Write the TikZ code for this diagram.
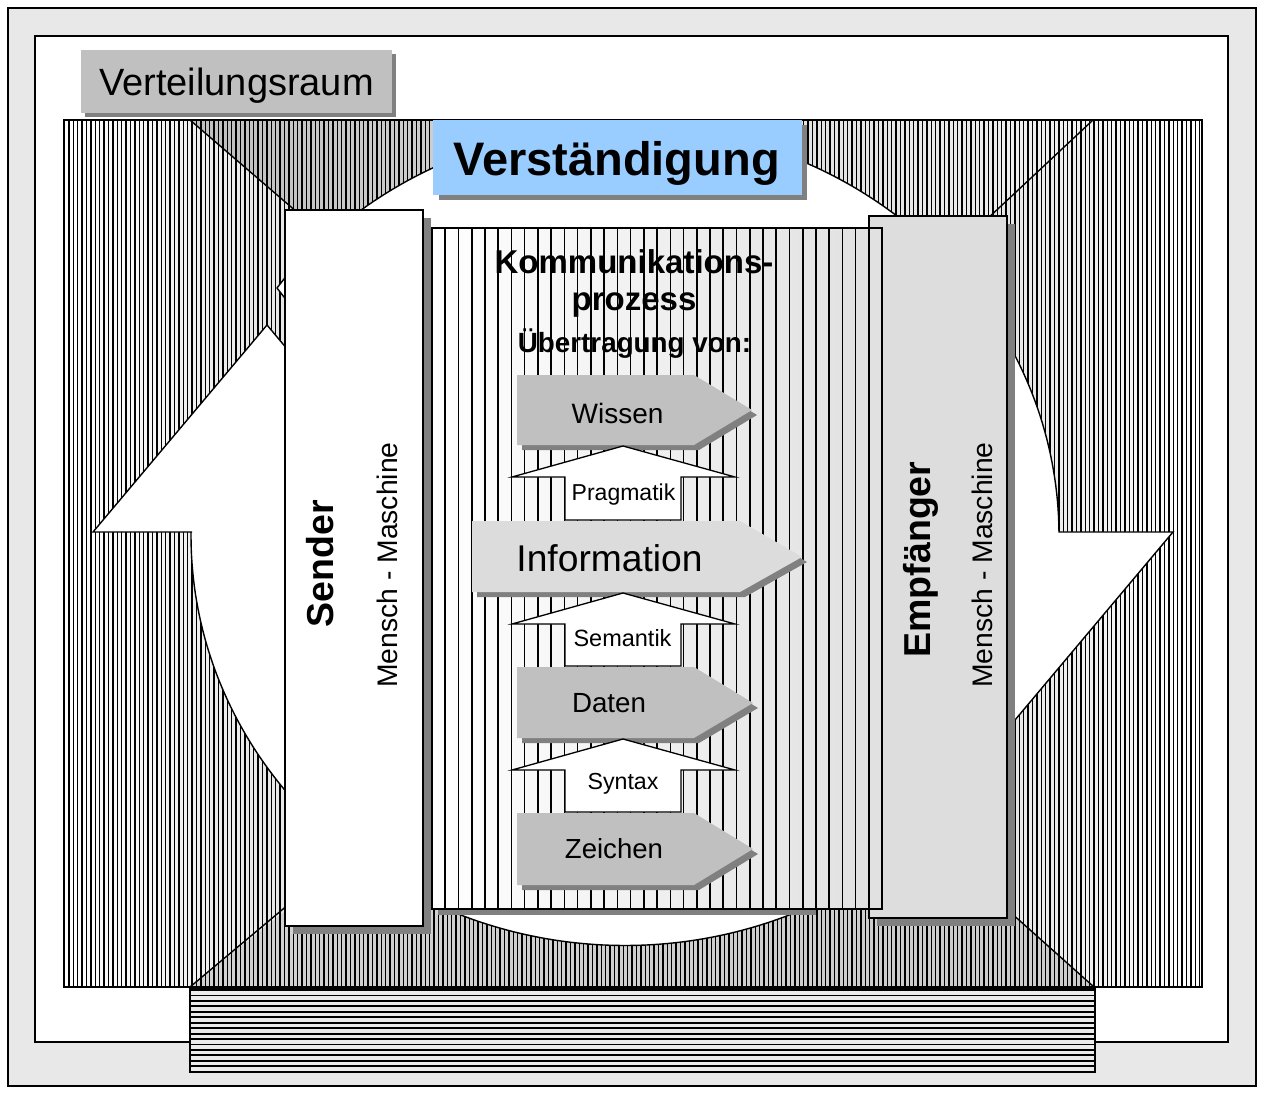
\documentclass[tikz,border=0pt]{standalone}
\usepackage{fontspec}
\setmainfont{Liberation Sans}
\definecolor{framegray}{HTML}{E8E8E8}
\definecolor{shadowgray}{HTML}{808080}
\definecolor{labelgray}{HTML}{C0C0C0}
\definecolor{skyblue}{HTML}{99CCFF}
\definecolor{boxgray}{HTML}{DDDDDD}
\definecolor{pentgray}{HTML}{C0C0C0}
\definecolor{infogray}{HTML}{DCDCDC}
\definecolor{panelgray}{HTML}{E4E4E4}
\begin{document}
\begin{tikzpicture}[x=1pt,y=-1pt,
  frame/.style={draw=black, line width=1.4pt},
  shadow/.style={fill=shadowgray, draw=none},
  stripe/.style={line width=1.45pt},
  edge/.style={line width=1.4pt, line join=miter},
  pent/.style={fill=pentgray, draw=none},
  uparrow/.style={fill=white, draw=black, line width=1.3pt, line join=miter},
  lbl/.style={inner sep=0pt, anchor=base},
  fs/.style={font=\fontsize{#1}{#1}\selectfont},
  fb/.style={font=\fontsize{#1}{#1}\selectfont\bfseries}]
\useasboundingbox (0,0) rectangle (1263,1094);

% frames
\draw[frame, fill=framegray] (8,8) rectangle (1256,1086);
\draw[frame, fill=white] (35,36) rectangle (1228,1042);

% label of the whole space
\fill[shadowgray] (85,54) rectangle (396,117);
\fill[labelgray] (81,50) rectangle (392,113);
\node[lbl, fs=38] (raum) at (236.5,96) {Verteilungsraum};

% room: side panels, ceiling and floor backgrounds
\shade[left color=white, right color=panelgray]
  (64,120) -- (190,120) -- (305,219) -- (305,895) -- (190,987) -- (64,987) -- cycle;
\shade[left color=panelgray, right color=white]
  (1202,120) -- (1093,120) -- (985,221) -- (1010,912) -- (1094,987) -- (1202,987) -- cycle;
\shade[left color=black!25, right color=black!5]
  (190,120) -- (1093,120) -- (985,221) -- (305,219) -- cycle;
\shade[left color=black!18, middle color=black!45, right color=black!20]
  (190,987) -- (1094,987) -- (1010,912) -- (305,895) -- cycle;

% vertical hatching of the room
\begin{scope}
  \clip (64,120) rectangle (1202,987);
  \foreach \i in {0,...,259}
    \draw[stripe] ({64.5+4.4*\i},120) -- ++(0,867);
\end{scope}

% perspective edges
\draw[edge] (190,120) -- (305,219);
\draw[edge] (1093,120) -- (985,221);
\draw[edge] (190,987) -- (295,899);
\draw[edge] (1094,987) -- (1010,912);
\draw[frame] (64,120) rectangle (1202,987);

% floor block with horizontal hatching
\fill[black!8] (190,988) rectangle (1095,1072);
\begin{scope}
  \clip (190,988) rectangle (1095,1072);
  \foreach \j in {0,...,15}
    \draw[line width=1.9pt] (190,{990+5.45*\j}) -- ++(905,0);
\end{scope}
\draw[frame] (190,988) rectangle (1095,1072);

% circular exchange arrow
\path[edge, draw=black, fill=white]
  (192,532) -- (93,532) -- (267,325) -- (300,364.3)
  -- plot[domain=-131:-0.49, samples=120, variable=\t]
     ({625+434*cos(\t)},{535.5+410*sin(\t)})
  -- (1173,532) -- (999,739)
  -- plot[domain=54:180.49, samples=150, variable=\t]
     ({625+434*cos(\t)},{535.5+410*sin(\t)})
  -- cycle;
\filldraw[edge, fill=white] (291,270) -- (277,288) -- (291,306) -- cycle;

% title
\fill[shadowgray] (439,125) rectangle (807,200);
\fill[skyblue] (433,120) rectangle (802,195);
\node[lbl, fb=47] (title) at (616.5,176) {Verständigung};

% sender
\fill[shadowgray] (293,218) rectangle (431,934);
\draw[frame, fill=white] (285,210) rectangle (423,926);
\node[lbl, fb=37.5, rotate=90] (sender) at (333,563.5) {Sender};
\node[lbl, fs=28.3, rotate=90] (sendertype) at (397,565) {Mensch - Maschine};

% receiver
\fill[shadowgray] (877,224) rectangle (1015,926);
\draw[frame, fill=boxgray] (869,216) rectangle (1007,918);
\node[lbl, fb=37.5, rotate=90] (receiver) at (930,559.5) {Empfänger};
\node[lbl, fs=28.3, rotate=90] (receivertype) at (992,565) {Mensch - Maschine};

% communication process
\fill[shadowgray] (438,234) rectangle (816,915);
\shade[left color=white, right color=black!12] (432,228) rectangle (882,909);
\foreach \i in {1,...,33}
  \draw[line width=1.6pt] ({432+13.24*\i},228) -- ++(0,681);
\draw[frame] (432,228) rectangle (882,909);
\node[lbl, fb=33] (proc1) at (634,273) {Kommunikations-};
\node[lbl, fb=33] (proc2) at (634,310) {prozess};
\node[lbl, fb=27.8] (transfer) at (634.5,352) {Übertragung von:};

% levels
\fill[shadowgray] (522,380) -- (699,380) -- (757,415) -- (699,450) -- (522,450) -- cycle;
\fill[pentgray] (517,375) -- (694,375) -- (752,410) -- (694,445) -- (517,445) -- cycle;
\node[lbl, fs=28] (wissen) at (617.5,423) {Wissen};

\fill[shadowgray] (477,526) -- (745,526) -- (807,562) -- (745,597) -- (477,597) -- cycle;
\fill[infogray] (472,521) -- (740,521) -- (802,557) -- (740,592) -- (472,592) -- cycle;
\node[lbl, fs=37.2] (information) at (609.5,571) {Information};

\fill[shadowgray] (522,672) -- (699,672) -- (758,708) -- (699,743) -- (522,743) -- cycle;
\fill[pentgray] (517,667) -- (694,667) -- (753,703) -- (694,738) -- (517,738) -- cycle;
\node[lbl, fs=27.7] (daten) at (609,712.7) {Daten};

\fill[shadowgray] (522,818) -- (699,818) -- (758,854) -- (699,890) -- (522,890) -- cycle;
\fill[pentgray] (517,813) -- (694,813) -- (753,849) -- (694,885) -- (517,885) -- cycle;
\node[lbl, fs=27.6] (zeichen) at (614,858) {Zeichen};

% transitions between levels
\draw[uparrow] (565,520) -- (565,477) -- (512,477) -- (623,446) -- (735,477) -- (681,477) -- (681,520) -- cycle;
\node[lbl, fs=23] (pragmatik) at (623.5,500) {Pragmatik};

\draw[uparrow] (565,666) -- (565,624) -- (512,624) -- (623,593) -- (735,624) -- (681,624) -- (681,666) -- cycle;
\node[lbl, fs=23.5] (semantik) at (622.5,646.7) {Semantik};

\draw[uparrow] (565,812) -- (565,770) -- (512,770) -- (623,739) -- (735,770) -- (681,770) -- (681,812) -- cycle;
\node[lbl, fs=23.2] (syntax) at (623,789) {Syntax};
\end{tikzpicture}
\end{document}
